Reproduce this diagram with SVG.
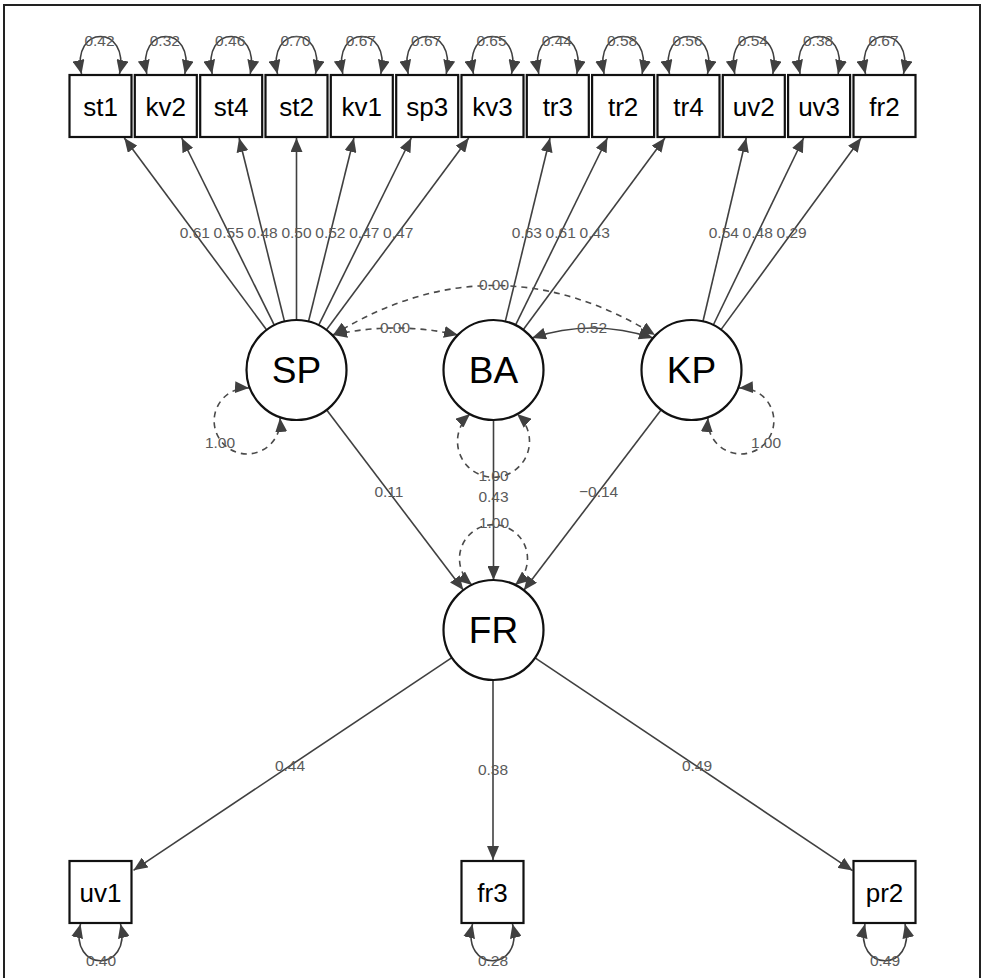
<svg xmlns="http://www.w3.org/2000/svg" width="986" height="978" viewBox="0 0 986 978">
<style>
.box{fill:#fff;stroke:#111;stroke-width:2.2}
.lat{fill:#fff;stroke:#111;stroke-width:2.2}
.bt{font-family:"Liberation Sans",Arial,sans-serif;font-size:26px;fill:#000;text-anchor:middle}
.lt{font-family:"Liberation Sans",Arial,sans-serif;font-size:37px;fill:#000;text-anchor:middle}
.el{font-family:"Liberation Sans",Arial,sans-serif;font-size:15.5px;fill:#5a5a5a;text-anchor:middle}
.e{fill:none;stroke:#404040;stroke-width:1.6;marker-end:url(#ah)}
.e2{fill:none;stroke:#404040;stroke-width:1.6;marker-start:url(#ah);marker-end:url(#ah)}
.d2{fill:none;stroke:#4a4a4a;stroke-width:1.6;stroke-dasharray:6 5;marker-start:url(#ah);marker-end:url(#ah)}
.frame{fill:none;stroke:#222;stroke-width:2}
</style>
<defs>
<marker id="ah" viewBox="0 0 14 12" refX="14" refY="6" markerWidth="14" markerHeight="12" markerUnits="userSpaceOnUse" orient="auto-start-reverse">
<path d="M0,0 L14,6 L0,12 z" fill="#404040"/>
</marker>
</defs>
<rect width="986" height="978" fill="#fff"/>
<path class="frame" d="M4,978 L4,5 L980,5 L980,978"/>
<g id="connectors">
<path class="e" d="M266.7,329.9 L124.3,138"/>
<path class="e" d="M274.3,325.2 L181.7,138"/>
<path class="e" d="M284.5,321.5 L239.1,138"/>
<path class="e" d="M296.5,320 L296.5,138"/>
<path class="e" d="M308.5,321.5 L353.9,138"/>
<path class="e" d="M318.7,325.2 L411.3,138"/>
<path class="e" d="M326.3,329.9 L468.7,138"/>
<path class="e" d="M505.3,321.4 L550,138"/>
<path class="e" d="M515.5,325.1 L607.4,138"/>
<path class="e" d="M523.2,329.8 L664.9,138"/>
<path class="e" d="M703,321.3 L746.2,138"/>
<path class="e" d="M713.3,325 L803.6,138"/>
<path class="e" d="M721,329.6 L861.1,138"/>
<path class="e2" d="M81.5,74 C70.5,24 130.5,24 119.5,74"/>
<path class="e2" d="M146.8,74 C135.8,24 195.8,24 184.8,74"/>
<path class="e2" d="M212.2,74 C201.2,24 261.2,24 250.2,74"/>
<path class="e2" d="M277.5,74 C266.5,24 326.5,24 315.5,74"/>
<path class="e2" d="M342.8,74 C331.8,24 391.8,24 380.8,74"/>
<path class="e2" d="M408.2,74 C397.2,24 457.2,24 446.2,74"/>
<path class="e2" d="M473.5,74 C462.5,24 522.5,24 511.5,74"/>
<path class="e2" d="M538.8,74 C527.8,24 587.8,24 576.8,74"/>
<path class="e2" d="M604.1,74 C593.1,24 653.1,24 642.1,74"/>
<path class="e2" d="M669.5,74 C658.5,24 718.5,24 707.5,74"/>
<path class="e2" d="M734.8,74 C723.8,24 783.8,24 772.8,74"/>
<path class="e2" d="M800.1,74 C789.1,24 849.1,24 838.1,74"/>
<path class="e2" d="M865.5,74 C854.5,24 914.5,24 903.5,74"/>
<path class="d2" d="M333,335 Q395,321 458,335"/>
<path class="e2" d="M532,338 Q592,318 653,338"/>
<path class="d2" d="M333,335 Q494,236 655,335"/>
<path class="d2" d="M249,388 A33,33 0 1 0 280,418"/>
<path class="d2" d="M470,414 A36,36 0 1 0 517,414"/>
<path class="d2" d="M739,388 A33,33 0 1 1 708,418"/>
<path class="d2" d="M472,585 A34,34 0 1 1 515,585"/>
<path class="e" d="M326.7,409.9 L463.3,590.1"/>
<path class="e" d="M493.5,420 L493.5,580"/>
<path class="e" d="M661.2,409.8 L523.8,590.2"/>
<path class="e" d="M451.9,657.7 L133.5,870.3"/>
<path class="e" d="M493,680 L493,860"/>
<path class="e" d="M535.1,657.8 L852.5,870.6"/>
<path class="e2" d="M80.5,924 C68.5,973 132.5,973 120.5,924"/>
<path class="e2" d="M472.5,924 C460.5,973 524.5,973 512.5,924"/>
<path class="e2" d="M865,924 C853,973 917,973 905,924"/>
</g>
<g id="edge-labels">
<text class="el" x="194.8" y="238">0.61</text>
<text class="el" x="228.7" y="238">0.55</text>
<text class="el" x="262.6" y="238">0.48</text>
<text class="el" x="296.5" y="238">0.50</text>
<text class="el" x="330.4" y="238">0.52</text>
<text class="el" x="364.3" y="238">0.47</text>
<text class="el" x="398.2" y="238">0.47</text>
<text class="el" x="526.9" y="238">0.63</text>
<text class="el" x="560.7" y="238">0.61</text>
<text class="el" x="594.7" y="238">0.43</text>
<text class="el" x="723.8" y="238">0.54</text>
<text class="el" x="757.7" y="238">0.48</text>
<text class="el" x="791.6" y="238">0.29</text>
<text class="el" x="99.5" y="46">0.42</text>
<text class="el" x="164.8" y="46">0.32</text>
<text class="el" x="230.2" y="46">0.46</text>
<text class="el" x="295.5" y="46">0.70</text>
<text class="el" x="360.8" y="46">0.67</text>
<text class="el" x="426.2" y="46">0.67</text>
<text class="el" x="491.5" y="46">0.65</text>
<text class="el" x="556.8" y="46">0.44</text>
<text class="el" x="622.1" y="46">0.58</text>
<text class="el" x="687.5" y="46">0.56</text>
<text class="el" x="752.8" y="46">0.54</text>
<text class="el" x="818.1" y="46">0.38</text>
<text class="el" x="883.5" y="46">0.67</text>
<text class="el" x="395" y="333">0.00</text>
<text class="el" x="592" y="333">0.52</text>
<text class="el" x="494" y="290">0.00</text>
<text class="el" x="220" y="448">1.00</text>
<text class="el" x="493.5" y="481">1.00</text>
<text class="el" x="766" y="448">1.00</text>
<text class="el" x="494" y="528">1.00</text>
<text class="el" x="388.9" y="497">0.11</text>
<text class="el" x="493.5" y="502">0.43</text>
<text class="el" x="598.6" y="497">−0.14</text>
<text class="el" x="290" y="771">0.44</text>
<text class="el" x="493" y="775">0.38</text>
<text class="el" x="697" y="771">0.49</text>
<text class="el" x="101" y="966">0.40</text>
<text class="el" x="493" y="966">0.28</text>
<text class="el" x="885" y="966">0.49</text>
</g>
<g id="node-st1"><rect class="box" x="69.5" y="75" width="62" height="62"/><text class="bt" x="100.5" y="116">st1</text></g>
<g id="node-kv2"><rect class="box" x="134.8" y="75" width="62" height="62"/><text class="bt" x="165.8" y="116">kv2</text></g>
<g id="node-st4"><rect class="box" x="200.2" y="75" width="62" height="62"/><text class="bt" x="231.2" y="116">st4</text></g>
<g id="node-st2"><rect class="box" x="265.5" y="75" width="62" height="62"/><text class="bt" x="296.5" y="116">st2</text></g>
<g id="node-kv1"><rect class="box" x="330.8" y="75" width="62" height="62"/><text class="bt" x="361.8" y="116">kv1</text></g>
<g id="node-sp3"><rect class="box" x="396.2" y="75" width="62" height="62"/><text class="bt" x="427.2" y="116">sp3</text></g>
<g id="node-kv3"><rect class="box" x="461.5" y="75" width="62" height="62"/><text class="bt" x="492.5" y="116">kv3</text></g>
<g id="node-tr3"><rect class="box" x="526.8" y="75" width="62" height="62"/><text class="bt" x="557.8" y="116">tr3</text></g>
<g id="node-tr2"><rect class="box" x="592.1" y="75" width="62" height="62"/><text class="bt" x="623.1" y="116">tr2</text></g>
<g id="node-tr4"><rect class="box" x="657.5" y="75" width="62" height="62"/><text class="bt" x="688.5" y="116">tr4</text></g>
<g id="node-uv2"><rect class="box" x="722.8" y="75" width="62" height="62"/><text class="bt" x="753.8" y="116">uv2</text></g>
<g id="node-uv3"><rect class="box" x="788.1" y="75" width="62" height="62"/><text class="bt" x="819.1" y="116">uv3</text></g>
<g id="node-fr2"><rect class="box" x="853.5" y="75" width="62" height="62"/><text class="bt" x="884.5" y="116">fr2</text></g>
<g id="node-SP"><circle class="lat" cx="296.5" cy="370" r="50"/><text class="lt" x="296.5" y="383">SP</text></g>
<g id="node-BA"><circle class="lat" cx="493.5" cy="370" r="50"/><text class="lt" x="493.5" y="383">BA</text></g>
<g id="node-KP"><circle class="lat" cx="691.5" cy="370" r="50"/><text class="lt" x="691.5" y="383">KP</text></g>
<g id="node-FR"><circle class="lat" cx="493.5" cy="630" r="50"/><text class="lt" x="493.5" y="643">FR</text></g>
<g id="node-uv1"><rect class="box" x="69.5" y="861" width="62" height="62"/><text class="bt" x="100.5" y="902">uv1</text></g>
<g id="node-fr3"><rect class="box" x="461.5" y="861" width="62" height="62"/><text class="bt" x="492.5" y="902">fr3</text></g>
<g id="node-pr2"><rect class="box" x="853.5" y="861" width="62" height="62"/><text class="bt" x="884.5" y="902">pr2</text></g>
</svg>
